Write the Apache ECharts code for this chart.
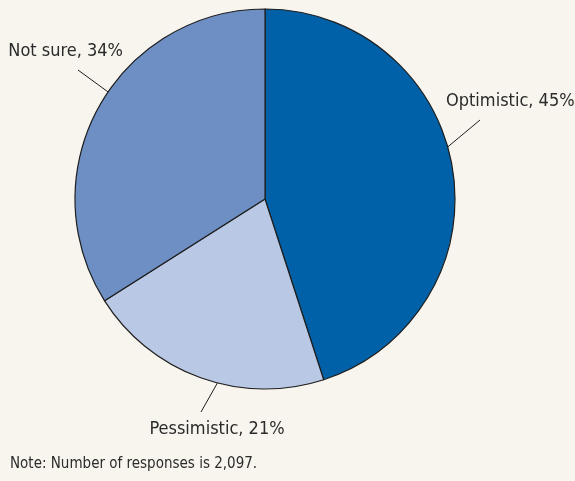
<!DOCTYPE html>
<html>
<head>
<meta charset="utf-8">
<script src="https://cdn.jsdelivr.net/npm/echarts@6/dist/echarts.min.js"></script>
<style>
html,body{margin:0;padding:0;background:#f8f5ee;}
#c{width:575px;height:481px;}
</style>
</head>
<body>
<div id="c"></div>
<script>
const categories = ['Optimistic', 'Pessimistic', 'Not sure'];
const values = [45, 21, 34];
const noteText = 'Note: Number of responses is 2,097.';

const colors = ['#0061a9', '#b9c8e5', '#6d8fc4'];
const FONT = '"Liberation Sans Narrow", "DejaVu Sans Condensed", sans-serif';
const CX = 265, CY = 199, R = 190;
// label annotation layout: line start angle (deg), line end, text anchor
const labelCfg = [
  { a: 15.9, end: [480, 120], tx: 446, ty: 101, align: 'left' },
  { a: -104.5, end: [201, 412], tx: 217, ty: 429, align: 'center' },
  { a: 145.7, end: [78, 70], tx: 123, ty: 51, align: 'right' }
];

const chart = echarts.init(document.getElementById('c'), null, { renderer: 'canvas' });
chart.setOption({
  backgroundColor: '#f8f5ee',
  animation: false,
  title: {
    text: noteText,
    left: 5,
    top: 452,
    textStyle: { fontFamily: FONT, fontSize: 15, fontWeight: 'normal', color: '#2b2b2b' }
  },
  series: [{
    type: 'pie',
    center: [CX, CY],
    radius: R,
    startAngle: 90,
    clockwise: true,
    silent: true,
    itemStyle: { borderColor: '#1e1e1e', borderWidth: 1.2 },
    label: {
      show: true,
      position: 'outside',
      overflow: 'none',
      formatter: p => p.name + ', ' + p.value + '%',
      fontFamily: FONT,
      fontSize: 18,
      color: '#2b2b2b'
    },
    labelLine: { show: true, length: 30, length2: 0, lineStyle: { color: '#1e1e1e', width: 1 } },
    labelLayout: function (params) {
      const c = labelCfg[params.dataIndex];
      const rad = c.a * Math.PI / 180;
      const start = [CX + R * Math.cos(rad), CY - R * Math.sin(rad)];
      return {
        x: c.tx, y: c.ty, align: c.align, verticalAlign: 'middle',
        labelLinePoints: [start, c.end, c.end]
      };
    },
    data: categories.map((n, i) => ({ name: n, value: values[i], itemStyle: { color: colors[i] } }))
  }]
});
</script>
</body>
</html>
